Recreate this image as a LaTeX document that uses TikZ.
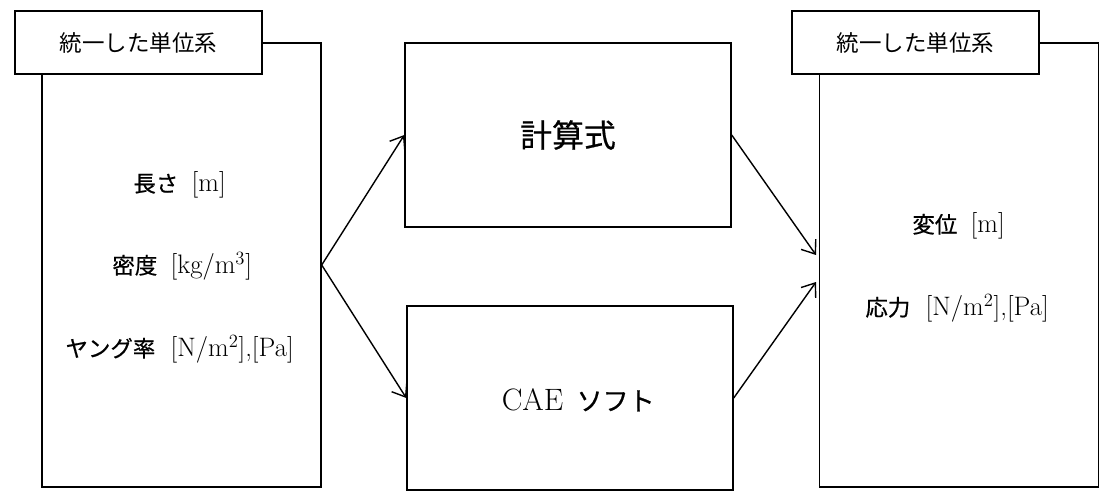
\documentclass[tikz,border=0pt]{standalone}
\usepackage{fontspec}
\newfontfamily\jp{Noto Sans CJK JP}
\newfontfamily\jpb[Scale=0.84,FakeBold=0.6]{Noto Sans CJK JP}
\usetikzlibrary{arrows.meta, positioning}
\begin{document}
\begin{tikzpicture}[-{Straight Barb[length=3mm,width=4.5mm]}, line width=1pt,
    unitbox/.style={draw, minimum width=6.975cm, minimum height=11.1cm, inner sep=0pt},
    tabbox/.style={draw, fill=white, minimum width=6.175cm, minimum height=1.575cm, inner sep=0pt, font=\fontsize{16}{19}\selectfont\jp},
    calcbox/.style={draw, minimum width=8.15cm, minimum height=4.6cm, inner sep=0pt, font=\fontsize{22}{26}\selectfont},
    jlbl/.style={inner sep=0pt, anchor=base east, font=\fontsize{19}{22}\selectfont\jpb},
    unit/.style={inner sep=0pt, font=\fontsize{19}{22}\selectfont}]
    \useasboundingbox (0,0) rectangle (27.875,12.575);
    % Input units
    \node[unitbox] (inL) at (4.5375,5.95) {};
    \node[tabbox] (tabL) at (3.4625,11.5125) {統一した単位系};
    \node[jlbl] (len) at (4.475,7.78) {長さ};
    \node[unit, base right=0.3cm of len] (lenU) {[m]};
    \node[jlbl] (dens) at (3.95,5.73) {密度};
    \node[unit, base right=0.3cm of dens] (densU) {[kg/m\textsuperscript{3}]};
    \node[jlbl] (young) at (3.9,3.655) {ヤング率};
    \node[unit, base right=0.35cm of young] (youngU) {[N/m\textsuperscript{2}],[Pa]};
    % Methods
    \node[calcbox] (calc) at (14.2,9.2) {\fontsize{27}{30}\selectfont\jpb 計算式};
    \node[calcbox] (cae) at (14.25,2.625) {};
    \node[unit, anchor=base east, font=\fontsize{22}{26}\selectfont] (caeA) at (14.1,2.3125) {CAE};
    \node[unit, base right=0.3cm of caeA, font=\fontsize{22}{26}\selectfont\jpb] (caeB) {ソフト};
    % Output units
    \node[unitbox] (outR) at (23.975,5.95) {};
    \node[tabbox] (tabR) at (22.8875,11.5125) {統一した単位系};
    \node[jlbl] (disp) at (23.95,6.755) {変位};
    \node[unit, base right=0.3cm of disp] (dispU) {[m]};
    \node[jlbl] (stress) at (22.775,4.68) {応力};
    \node[unit, base right=0.35cm of stress] (stressU) {[N/m\textsuperscript{2}],[Pa]};
    \coordinate (inA) at (20.4,6.2);
    \coordinate (inB) at (20.4,5.525);
    % Arrows
    \draw (inL.east) -- (calc.west);
    \draw (inL.east) -- (cae.west);
    \draw (calc.east) -- (inA);
    \draw (cae.east) -- (inB);
\end{tikzpicture}
\end{document}
